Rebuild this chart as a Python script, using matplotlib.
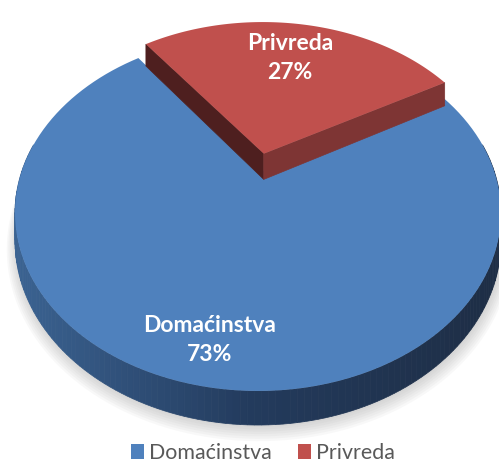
import numpy as np
import matplotlib.pyplot as plt
from matplotlib.patches import Polygon, Patch
from matplotlib.colors import to_rgb

# data
labels = ["Domaćinstva", "Privreda"]
values = [73, 27]
colors = ["#4F81BD", "#C0504D"]

# 3d look: perspective ellipse in pixel coords
CX, CY = 258, 173
KX, KY = 236.8, 169.0
A = 0.2247          # perspective strength
H = 26.4            # thickness
EXPLODE = [0.0, 0.12]
START = 126.6       # degrees, counter clockwise

plt.rcParams['font.family'] = ['Lato', 'DejaVu Sans']


def proj(u, v, depth=0.0):
    s = 1.0 + A * v
    return CX + KX * u / s, CY - KY * v / s + H * depth / s


def arc(a0, a1, off=(0, 0), r=1.0, depth=0.0, n=120):
    t = np.radians(np.linspace(a0, a1, n))
    u = off[0] + r * np.cos(t)
    v = off[1] + r * np.sin(t)
    x, y = proj(u, v, depth)
    return np.column_stack([x, y])


def mix(c1, c2, f):
    c1, c2 = np.array(to_rgb(c1)), np.array(to_rgb(c2))
    return tuple(c1 + (c2 - c1) * f)


fig = plt.figure(figsize=(4.99, 4.72), dpi=100)
ax = fig.add_axes([0, 0, 1, 1])
ax.set_xlim(0, 499)
ax.set_ylim(472, 0)
ax.axis("off")

fracs = np.array(values) / sum(values)
spans = fracs * 360
starts = START + np.concatenate([[0], np.cumsum(spans)[:-1]])

# soft shadow under the pie
for k in range(7):
    pts = arc(0, 360, r=1.0 + 0.006 * k, depth=1.0, n=200)
    pts[:, 1] += 2 + 0.6 * k
    pts[:, 0] += 1
    ax.add_patch(Polygon(pts, closed=True, facecolor="#808080", edgecolor="none", alpha=0.05))

# blue slice: side with a gradient, then top
a0, a1 = starts[0], starts[0] + spans[0]
steps = np.linspace(max(a0, 170), min(a1, 370), 150)
for s0, s1 in zip(steps[:-1], steps[1:]):
    top = arc(s0, s1, n=3)
    bot = arc(s1, s0, depth=1.0, n=3)
    xm = top[:, 0].mean()
    if xm < 250:
        c = mix("#3B6392", "#233B5D", np.clip((xm - 15) / 235, 0, 1))
    else:
        c = mix("#233B5D", "#1E2E46", np.clip((xm - 250) / 240, 0, 1))
    ax.add_patch(Polygon(np.vstack([top, bot]), closed=True, facecolor=c, edgecolor=c, linewidth=0.5))

top = np.vstack([[proj(0, 0)], arc(a0, a1)])
ax.add_patch(Polygon(top, closed=True, facecolor=colors[0], edgecolor="none"))

# red slice, exploded
a0, a1 = starts[1], starts[1] + spans[1]
mid = np.radians((a0 + a1) / 2)
off = (EXPLODE[1] * np.cos(mid), EXPLODE[1] * np.sin(mid))
apex_t = proj(*off)
apex_b = proj(*off, depth=1.0)
for ang, fc in [(a1, "#4E1F1F"), (a0, "#7E3534")]:
    u = off[0] + np.cos(np.radians(ang))
    v = off[1] + np.sin(np.radians(ang))
    face = [apex_t, proj(u, v), proj(u, v, 1.0), apex_b]
    ax.add_patch(Polygon(face, closed=True, facecolor=fc, edgecolor=fc, linewidth=0.5))
top = np.vstack([[apex_t], arc(a0, a1, off=off)])
ax.add_patch(Polygon(top, closed=True, facecolor=colors[1], edgecolor="none"))

# labels inside slices
label_pos = [(210, 340), (290, 58)]
for name, f, (x, y) in zip(labels, fracs, label_pos):
    ax.text(x, y, f"{name}\n{f * 100:.0f}%", ha="center", va="center", color="white",
            fontsize=16.5, fontweight="bold", linespacing=1.45)

handles = [Patch(facecolor=c, edgecolor="none") for c in colors]
fig.legend(handles, labels, loc="lower center", bbox_to_anchor=(0.527, -0.022), ncol=2,
           frameon=False, fontsize=15.4, labelcolor="#595959", handlelength=0.6, handleheight=0.7,
           handletextpad=0.25, columnspacing=1.2)

fig.savefig("out.png", dpi=100)
